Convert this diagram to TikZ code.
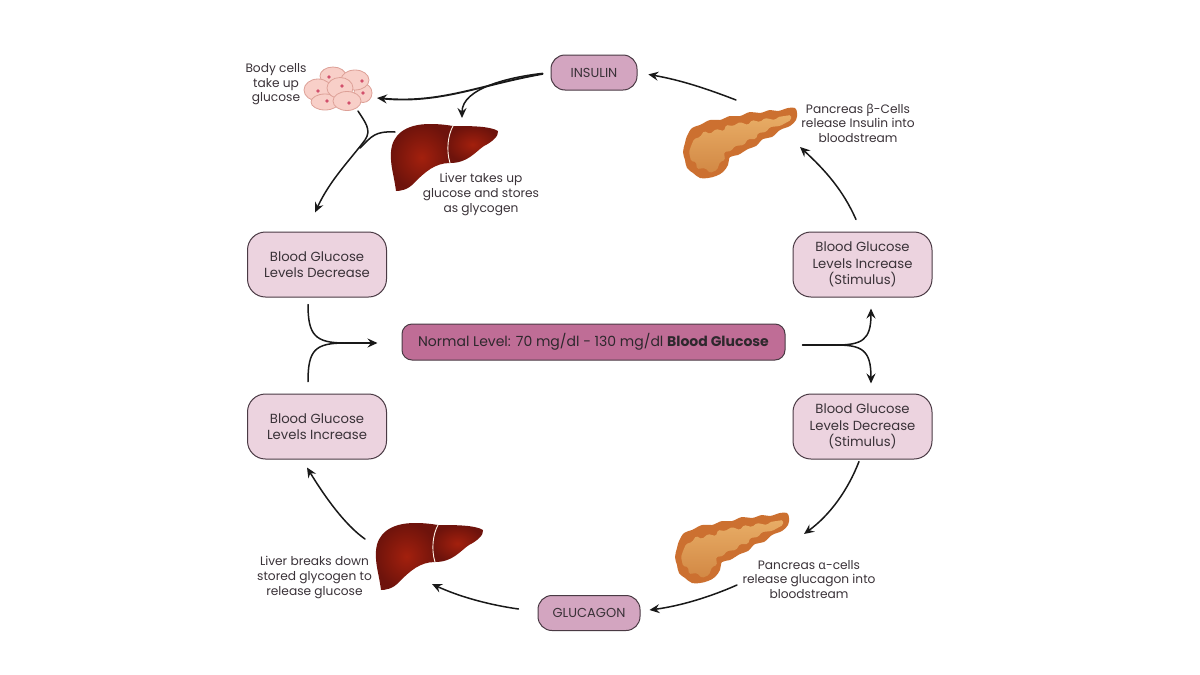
\documentclass[tikz,border=0pt]{standalone}
\usepackage{fontspec}
\setmainfont{Poppins}
\newfontfamily\greekfont{Noto Sans}
\usetikzlibrary{arrows.meta,calc}
\definecolor{inktext}{HTML}{3A3238}
\definecolor{boxedge}{HTML}{4A3A44}
\definecolor{palebox}{HTML}{ECD3DF}
\definecolor{midbox}{HTML}{D3A5C0}
\definecolor{deepbox}{HTML}{BF6D96}
\definecolor{organ}{HTML}{CC7030}
\definecolor{organlight}{HTML}{E8AD66}
\definecolor{organmid}{HTML}{D28844}
\definecolor{liverlight}{HTML}{A3200D}
\definecolor{liverdark}{HTML}{6E130C}
\definecolor{cellfill}{HTML}{F8CFC8}
\definecolor{celledge}{HTML}{DDA097}
\definecolor{cellcore}{HTML}{D2506C}
\tikzset{
  x=1pt,y=-1pt,
  label text/.style={text=inktext,align=center,font=\fontsize{12.2}{14.6}\selectfont,inner sep=0pt},
  level box/.style={draw=boxedge,line width=1pt,fill=palebox,rounded corners=18pt,
    minimum width=139pt,minimum height=65pt,text=inktext,align=center,inner sep=0pt,
    font=\fontsize{13.2}{16.6}\selectfont},
  hormone box/.style={draw=boxedge,line width=1pt,fill=midbox,rounded corners=14pt,
    minimum height=35pt,text=inktext,inner sep=0pt,font=\fontsize{13}{15}\selectfont},
  flow/.style={draw=black!90,line width=1.5pt,line cap=round,
    -{Stealth[length=10pt,width=9pt,inset=3.5pt]}},
  trunk/.style={draw=black!90,line width=1.5pt,line cap=round},
  cell/.style={draw=celledge,line width=0.8pt,fill=cellfill},
  cellnucleus/.style={fill=cellcore,draw=none},
  pics/liver/.style={code={
    \shade[inner color=liverlight,outer color=liverdark]
      (396,191) .. controls (394,175) and (390,165) .. (391,152)
      .. controls (392,135) and (405,124) .. (430,124)
      .. controls (440,124) and (447,125) .. (453,126)
      .. controls (448,135) and (446,150) .. (450,163)
      .. controls (435,163) and (425,172) .. (414,183)
      .. controls (408,190) and (400,191) .. (396,191) -- cycle;
    \shade[inner color=liverlight,outer color=liverdark]
      (453,126) .. controls (470,126) and (490,126) .. (498,131)
      .. controls (499,136) and (492,142) .. (484,146)
      .. controls (475,152) and (468,163) .. (450,163)
      .. controls (446,150) and (448,135) .. (453,126) -- cycle;
    \draw[draw=white!90!orange,line width=0.9pt]
      (453,126) .. controls (448,135) and (446,150) .. (450,163);
  }},
  pics/pancreas/.style={code={
    \fill[organ] plot[smooth cycle,tension=0.6] coordinates {
      (797,113) (795,108) (788,108) (778,111) (770,110) (760,113) (750,112) (740,116)
      (730,116) (720,120) (710,120) (700,125) (692,128) (687,136) (685,143) (683,152)
      (685,160) (687,168) (693,173) (700,178) (708,178) (716,176) (723,172) (728,165)
      (730,157) (738,155) (748,149) (756,146) (763,139) (772,137) (780,130) (790,126)
      (796,120)};
    \shade[top color=organlight,bottom color=organmid,rounded corners=1.5pt]
      (791,115) -- (778,117) -- (775,120) -- (765,118) -- (760,122) -- (752,120)
      -- (748,125) -- (740,122) -- (733,126) -- (726,125) -- (724,131) -- (716,129)
      -- (710,134) -- (704,131) -- (700,137) -- (694,139) -- (691,146) -- (689,152)
      -- (691,161) -- (696,162) -- (697,169) -- (705,168) -- (710,173) -- (717,170)
      -- (720,162) -- (725,160) -- (724,152) -- (731,151) -- (735,146) -- (744,145)
      -- (748,139) -- (756,139) -- (758,133) -- (766,132) -- (770,127) -- (780,126)
      -- (791,120) -- cycle;
  }}
}
\begin{document}
\begin{tikzpicture}
\useasboundingbox (0,0) rectangle (1200,675);
\fill[white] (0,0) rectangle (1200,675);

% Organ artwork
\pic at (0,0) {liver};
\pic at (-15,399) {liver};
\pic at (0,0) {pancreas};
\pic at (-8,405) {pancreas};

% Cluster of body cells
\draw[cell] (363,93) ellipse [x radius=9,y radius=9.5];
\draw[cell] (333,76) ellipse [x radius=13,y radius=9];
\draw[cell] (355,80) ellipse [x radius=14,y radius=10];
\draw[cell] (318,90) ellipse [x radius=14,y radius=11];
\draw[cell] (325,102) ellipse [x radius=14,y radius=8];
\draw[cell] (340,88) ellipse [x radius=13,y radius=10.5];
\draw[cell] (347,101) ellipse [x radius=14,y radius=9.5];
\foreach \cx/\cy in {329/77,362/81,318/91,342/86,363/93,327/101,349/103}
  \fill[cellnucleus] (\cx,\cy) circle (1.9);

% Boxes
\node[hormone box,minimum width=86pt] (insulin) at (594,72.5) {INSULIN};
\node[hormone box,minimum width=102pt] (glucagon) at (589,613) {GLUCAGON};
\node[level box] (leftdown) at (317,264.5) {Blood Glucose\\Levels Decrease};
\node[level box] (leftup) at (317,426.5) {Blood Glucose\\Levels Increase};
\node[level box] (rightup) at (862.5,264.5) {Blood Glucose\\Levels Increase\\(Stimulus)};
\node[level box] (rightdown) at (862.5,426.5) {Blood Glucose\\Levels Decrease\\(Stimulus)};
\node[draw=boxedge,line width=1pt,fill=deepbox,rounded corners=10pt,minimum width=383pt,
      minimum height=36pt,text=inktext!80!black,inner sep=0pt,font=\fontsize{14}{16}\selectfont]
      (normal) at (593.5,342) {Normal Level: 70 mg/dl - 130 mg/dl \textbf{Blood Glucose}};

% Captions
\node[label text] (cellscap) at (276,84.5) {Body cells\\take up\\glucose};
\node[label text] (storecap) at (481,194.5) {Liver takes up\\glucose and stores\\as glycogen};
\node[label text] (betacap) at (858,123) {Pancreas {\greekfont β}-Cells\\release Insulin into\\bloodstream};
\node[label text] (breakcap) at (314.5,577.5) {Liver breaks down\\stored glycogen to\\release glucose};
\node[label text] (alphacap) at (809,579.5) {Pancreas {\greekfont α}-cells\\release glucagon into\\bloodstream};

% Free connector ends beside the artwork
\coordinate (cellsin) at (377,98);
\coordinate (cellsout) at (358,111);
\coordinate (liverin) at (462,118);
\coordinate (liverout) at (395,132);
\coordinate (junction) at (365,140);
\coordinate (betaout) at (736,100);
\coordinate (betain) at (800,147);
\coordinate (alphain) at (804,534);
\coordinate (alphaout) at (737,585);
\coordinate (lowerliverin) at (432,584);
\coordinate (lowerliverout) at (365,539);
\coordinate (mergepoint) at (345,343);
\coordinate (splitpoint) at (836,345);

% Insulin to its two targets, then on to falling glucose
\draw[flow,line width=1.9pt,shorten <=8pt] (insulin.west) .. controls (480,85) and (440,104) .. (cellsin);
\draw[flow,shorten <=8pt] (insulin.west) .. controls (510,77) and (462,88) .. (liverin);
\draw[flow] (cellsout) .. controls (365,122) and (372,130) .. (junction)
  .. controls (350,160) and (330,180) .. ($(leftdown.north)+(-2,-19)$);
\draw[trunk] (liverout) .. controls (375,131) and (372,136) .. (360,148);

% Right side of the loop
\draw[flow] ($(rightup.north)+(-6.5,-12)$) .. controls (843,190) and (825,170) .. (betain);
\draw[flow,shorten >=11pt] (betaout) .. controls (705,88) and (680,80) .. (insulin.east);

% Exit from the normal level, splitting up and down
\draw[trunk] ($(normal.east)+(17,3)$) -- (splitpoint);
\draw[flow] (splitpoint) .. controls (862,345) and (871,340) .. ($(rightup.south)+(8.5,11)$);
\draw[flow] (splitpoint) .. controls (862,345) and (871,350) .. ($(rightdown.north)+(8.5,-10)$);

% Lower half of the loop
\draw[flow] ($(rightdown.south)+(-3.5,2)$) .. controls (848,490) and (830,515) .. (alphain);
\draw[flow] (alphaout) .. controls (710,597) and (680,606) .. ($(glucagon.east)+(9,-3)$);
\draw[flow] ($(glucagon.west)+(-19,-4)$) .. controls (490,605) and (460,597) .. (lowerliverin);
\draw[flow] (lowerliverout) .. controls (345,525) and (325,497) .. ($(leftup.south)+(-10,8)$);

% Return to the normal level
\draw[trunk] ($(leftdown.south)+(-9,7)$) .. controls (308,335) and (315,343) .. (mergepoint);
\draw[trunk] ($(leftup.north)+(-9,-12)$) .. controls (308,350) and (315,343) .. (mergepoint);
\draw[flow] (mergepoint) -- ($(normal.west)+(-24,1)$);
\end{tikzpicture}
\end{document}
